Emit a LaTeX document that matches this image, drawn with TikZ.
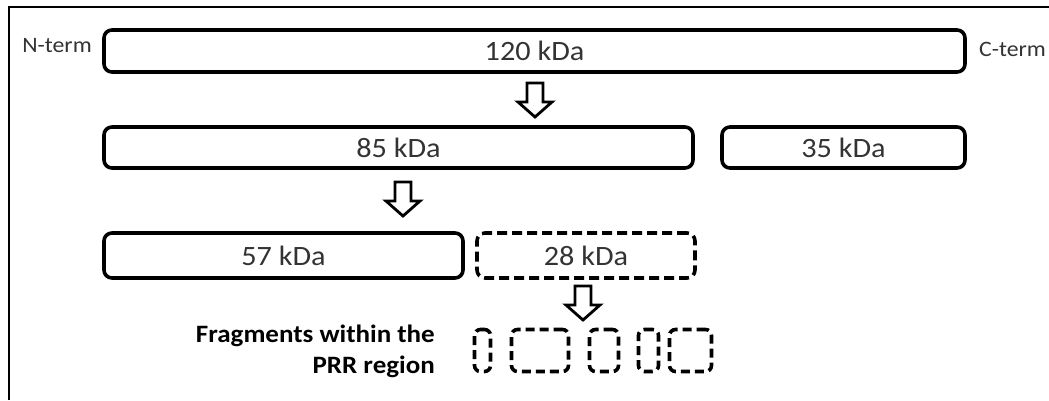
\documentclass[tikz,border=0pt]{standalone}
\usepackage{fontspec}
\setmainfont{Carlito}
\newfontfamily\labfont[FakeStretch=1.08]{Carlito}
\definecolor{labgray}{gray}{0.2}
\begin{document}
\begin{tikzpicture}[x=1pt,y=-1pt,
  box/.style={draw, line width=3.6pt, rounded corners=8pt, inner sep=0pt},
  dbox/.style={box, dash pattern=on 10pt off 5pt},
  lab/.style={font=\labfont\fontsize{28}{30}\selectfont, text=labgray},
  term/.style={font=\labfont\fontsize{22}{24}\selectfont, text=labgray, inner sep=0pt},
  frag/.style={draw, line width=3.6pt, rounded corners=6pt, dash pattern=on 9pt off 5pt, inner sep=0pt, minimum height=42pt},
  downarrow/.pic={\draw[line width=2.8pt, line join=miter] (-8,0) -- (8,0) -- (8,19) -- (17,19) -- (0,34) -- (-17,19) -- (-8,19) -- cycle;}
]
\useasboundingbox (0,0) rectangle (1049,400);
\draw[line width=2.6pt] (9,400) -- (9,7) -- (1049,7);

\node[term] (nterm) at (57,46) {N-term};
\node[term] (cterm) at (1012.5,49) {C-term};

\node[box, lab, minimum width=861pt, minimum height=42pt] (p120) at (534.5,51) {120 kDa};
\node[box, lab, minimum width=589pt, minimum height=41pt] (p85) at (398.5,147.5) {85 kDa};
\node[box, lab, minimum width=243pt, minimum height=41pt] (p35) at (843.5,147.5) {35 kDa};
\node[box, lab, minimum width=359pt, minimum height=45pt] (p57) at (283.5,255.5) {57 kDa};
\node[dbox, lab, minimum width=218pt, minimum height=45pt] (p28) at (586,255.5) {28 kDa};

\pic at (535,83) {downarrow};
\pic at (403,182) {downarrow};
\pic at (583,286) {downarrow};

\node[font=\labfont\bfseries\fontsize{25}{31}\selectfont, align=right, anchor=east, inner sep=0pt] (frtext) at (435,351) {Fragments within the\\PRR region};

\node[frag, minimum width=16pt] (f1) at (482.5,350.5) {};
\node[frag, minimum width=57pt] (f2) at (540,350.5) {};
\node[frag, minimum width=29pt] (f3) at (604,350.5) {};
\node[frag, minimum width=20pt] (f4) at (648.5,350.5) {};
\node[frag, minimum width=42pt] (f5) at (690.5,350.5) {};
\end{tikzpicture}
\end{document}
